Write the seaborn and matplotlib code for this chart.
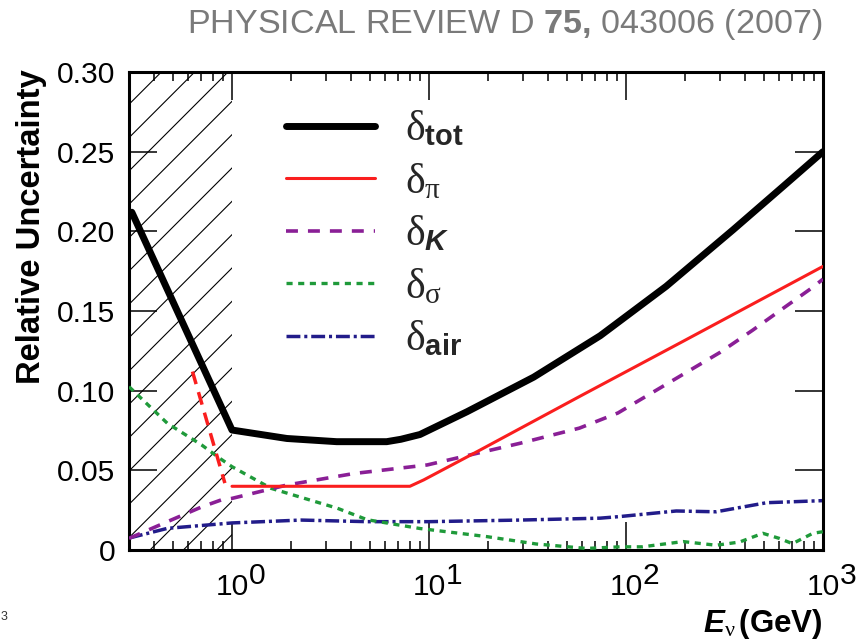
import matplotlib
matplotlib.use("Agg")
import matplotlib.pyplot as plt
from matplotlib.ticker import FixedLocator, FixedFormatter, LogLocator, NullFormatter
import seaborn as sns

# Total uncertainty
e_tot = [0.31, 1.0, 1.9, 3.4, 6.1, 7.2, 9.0, 15.6, 34, 74, 160, 350, 625, 1000]
d_tot = [0.212, 0.0753, 0.070, 0.068, 0.068, 0.0695, 0.0725, 0.0868, 0.1085, 0.1345, 0.1655, 0.201, 0.228, 0.250]

# Pion production uncertainty (solid above 1 GeV, dashed below)
e_pi = [1.0, 8.0, 9.4, 18.2, 58.4, 195, 1000]
d_pi = [0.040, 0.040, 0.044, 0.0628, 0.0965, 0.131, 0.178]
e_pi_low = [0.63, 0.92]
d_pi_low = [0.112, 0.042]

# Kaon production uncertainty
e_k = [0.3, 0.47, 0.70, 0.88, 1.0, 1.9, 4.15, 9.8, 29, 58, 91, 300, 440, 650, 890, 1000]
d_k = [0.0073, 0.0178, 0.027, 0.0314, 0.0324, 0.0408, 0.048, 0.0534, 0.067, 0.0765, 0.086,
       0.124, 0.138, 0.153, 0.165, 0.170]

# Interaction cross-section uncertainty
e_sig = [0.3, 0.47, 0.70, 0.88, 1.0, 1.58, 3.43, 4.86, 9.0, 19.7, 35, 63, 93, 121, 195, 287,
         377, 495, 600, 700, 889, 1000]
d_sig = [0.1025, 0.0795, 0.066, 0.057, 0.0523, 0.0387, 0.0262, 0.019, 0.0135, 0.0084, 0.0038,
         0.001, 0.002, 0.002, 0.0053, 0.003, 0.005, 0.0105, 0.0073, 0.004, 0.0105, 0.0115]

# Air density uncertainty
e_air = [0.3, 0.47, 1.0, 2.24, 4.86, 10, 29, 74, 93, 180, 287, 518, 1000]
d_air = [0.0075, 0.0136, 0.017, 0.0188, 0.0178, 0.0178, 0.0188, 0.020, 0.021, 0.0245, 0.024,
         0.0297, 0.031]

labels = [r"$\mathrm{\delta}_{\mathbf{tot}}$", r"$\mathrm{\delta}_{\mathrm{\pi}}$",
          r"$\mathrm{\delta}_{\mathbfit{K}}$", r"$\mathrm{\delta}_{\mathrm{\sigma}}$",
          r"$\mathrm{\delta}_{\mathbf{air}}$"]

y_ticks = [0, 0.05, 0.10, 0.15, 0.20, 0.25, 0.30]
y_ticklabels = ["0", "0.05", "0.10", "0.15", "0.20", "0.25", "0.30"]
x_ticks = [1, 10, 100, 1000]
x_exponents = ["0", "1", "2", "3"]

sns.set_style("ticks")
plt.rcParams.update({
    "font.family": ["Liberation Sans", "DejaVu Sans"],
    "mathtext.fontset": "custom",
    "mathtext.rm": "Liberation Serif",
    "mathtext.it": "Liberation Serif:italic",
    "mathtext.bf": "Liberation Sans:bold",
    "mathtext.sf": "Liberation Sans",
    "mathtext.bfit": "Liberation Sans:italic:bold",
    "hatch.linewidth": 0.4,
    "hatch.color": "black",
    "lines.scale_dashes": False,
    "axes.linewidth": 1.1,
    "axes.edgecolor": "black",
})

fig = plt.figure(figsize=(4.28, 3.215), dpi=200)
ax = fig.add_axes([0.1507, 0.1446, 0.8107, 0.7434])

red = "#fa1e1e"
purple = "#8a1f96"
green = "#1f9a3a"
navy = "#221c8a"

# Low-energy region excluded from the analysis
ax.axvspan(0.3, 1.0, facecolor="none", edgecolor="black", hatch="//", linewidth=0, zorder=0.5)

sns.lineplot(x=e_air, y=d_air, ax=ax, color=navy, lw=1.25,
             linestyle=(0, (5.0, 1.4, 1.1, 1.4)), label=labels[4], zorder=2)
sns.lineplot(x=e_sig, y=d_sig, ax=ax, color=green, lw=1.2,
             linestyle=(0, (2.2, 2.0)), label=labels[3], zorder=3)
sns.lineplot(x=e_k, y=d_k, ax=ax, color=purple, lw=1.3,
             linestyle=(0, (4.3, 3.6)), label=labels[2], zorder=4)
sns.lineplot(x=e_pi, y=d_pi, ax=ax, color=red, lw=1.1, label=labels[1], zorder=5)
sns.lineplot(x=e_pi_low, y=d_pi_low, ax=ax, color=red, lw=1.25,
             linestyle=(0, (4.7, 3.0)), zorder=5)
sns.lineplot(x=e_tot, y=d_tot, ax=ax, color="black", lw=2.5, label=labels[0], zorder=6)

ax.set_xscale("log")
ax.set_xlim(0.3, 1000)
ax.set_ylim(0, 0.30)

ax.xaxis.set_major_locator(FixedLocator(x_ticks))
ax.xaxis.set_major_formatter(FixedFormatter(["10"] * len(x_ticks)))
ax.xaxis.set_minor_locator(LogLocator(base=10, subs=[2, 3, 4, 5, 6, 7, 8, 9], numticks=20))
ax.xaxis.set_minor_formatter(NullFormatter())
ax.yaxis.set_major_locator(FixedLocator(y_ticks))
ax.yaxis.set_major_formatter(FixedFormatter(y_ticklabels))

ax.tick_params(which="both", direction="in", top=True, right=True, color="black",
               labelcolor="black")
ax.tick_params(which="major", length=10, width=0.55)
ax.tick_params(axis="y", which="major", labelsize=10.8, pad=5)
ax.tick_params(axis="x", which="major", labelsize=10.8, pad=8.2)
ax.tick_params(which="minor", length=3.3, width=0.55)

# Decade exponents, raised beside each "10"
for xt, ex in zip(x_ticks, x_exponents):
    ax.annotate(ex, xy=(xt, 0), xycoords=ax.get_xaxis_transform(),
                xytext=(6.0, -4.2), textcoords="offset points",
                ha="left", va="top", fontsize=10.8, color="black")

ax.set_ylabel("Relative Uncertainty", fontsize=11.8, fontweight="bold", color="black")
ax.yaxis.set_label_coords(-0.118, 0.676)
ax.set_xlabel(r"$\mathbfit{E}_{\mathrm{\nu}}\,\mathbf{(GeV)}$", fontsize=11.3,
              color="black", loc="right")
ax.xaxis.set_label_coords(1.0, -0.12)

handles, labs = ax.get_legend_handles_labels()
order = [labels.index(l) for l in labs]
pairs = sorted(zip(order, handles, labs))
ax.legend([p[1] for p in pairs], [p[2] for p in pairs], loc="upper left",
          bbox_to_anchor=(0.226, 0.922), frameon=False, fontsize=15,
          handlelength=2.15, handletextpad=0.7, labelspacing=0.3,
          borderpad=0, borderaxespad=0)

fig.text(0.9603, 0.9487, r"PHYSICAL REVIEW D $\mathbf{75{,}}$ 043006 (2007)",
         ha="right", va="baseline", fontsize=12.3, color="#7a7a7a")
fig.text(0.001, 0.036, "3", ha="left", va="baseline", fontsize=4.5, color="#333333")

fig.savefig("out.png", dpi=200)
